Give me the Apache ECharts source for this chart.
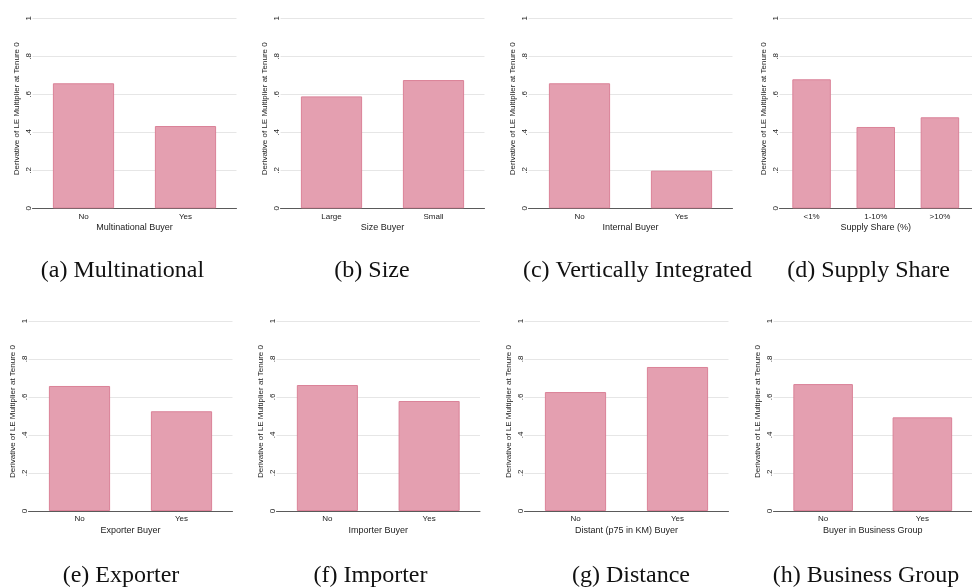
<!DOCTYPE html>
<html>
<head>
<meta charset="utf-8">
<script src="https://cdn.jsdelivr.net/npm/echarts@6/dist/echarts.min.js"></script>
<style>
  html, body { margin: 0; padding: 0; background: #ffffff; }
  #chart { width: 972px; height: 588px; }
</style>
</head>
<body>
<div id="chart"></div>
<script>
// Derivative of the LE multiplier at tenure 0, split by buyer characteristics
const yAxisTitle = 'Derivative of LE Multiplier at Tenure 0';
const yTickLabels = ['0', '.2', '.4', '.6', '.8', '1'];

const multinationalCats = ['No', 'Yes'];
const multinationalVals = [0.658, 0.433];

const sizeCats = ['Large', 'Small'];
const sizeVals = [0.589, 0.675];

const internalCats = ['No', 'Yes'];
const internalVals = [0.658, 0.198];

const supplyShareCats = ['<1%', '1-10%', '>10%'];
const supplyShareVals = [0.679, 0.428, 0.479];

const exporterCats = ['No', 'Yes'];
const exporterVals = [0.658, 0.525];

const importerCats = ['No', 'Yes'];
const importerVals = [0.663, 0.579];

const distantCats = ['No', 'Yes'];
const distantVals = [0.626, 0.758];

const groupCats = ['No', 'Yes'];
const groupVals = [0.668, 0.493];

const xTitles = ['Multinational Buyer', 'Size Buyer', 'Internal Buyer', 'Supply Share (%)',
                 'Exporter Buyer', 'Importer Buyer', 'Distant (p75 in KM) Buyer', 'Buyer in Business Group'];
const captions = ['(a) Multinational', '(b) Size', '(c) Vertically Integrated', '(d) Supply Share',
                  '(e) Exporter', '(f) Importer', '(g) Distance', '(h) Business Group'];

// panel layout: plot rectangles and caption anchors
const panels = [
  { cats: multinationalCats, vals: multinationalVals, left: 32.5,  width: 204,   top: 18.3, cx: 122.5 },
  { cats: sizeCats,          vals: sizeVals,          left: 280.5, width: 204,   top: 18.3, cx: 372 },
  { cats: internalCats,      vals: internalVals,      left: 528.5, width: 204,   top: 18.3, cx: 637.5 },
  { cats: supplyShareCats,   vals: supplyShareVals,   left: 779.5, width: 197.5, top: 18.3, cx: 868.5 },
  { cats: exporterCats,      vals: exporterVals,      left: 28.5,  width: 204,   top: 321,  cx: 121 },
  { cats: importerCats,      vals: importerVals,      left: 276.5, width: 203.5, top: 321,  cx: 370.5 },
  { cats: distantCats,       vals: distantVals,       left: 524.5, width: 204,   top: 321,  cx: 631 },
  { cats: groupCats,         vals: groupVals,         left: 773.5, width: 203,   top: 321,  cx: 866 }
];
const plotHeight = 190;

const sans = '"Liberation Sans", Arial, Helvetica, sans-serif';
const serif = '"Liberation Serif", "Times New Roman", serif';
const textColor = '#222222';

const grids = [], xAxes = [], yAxes = [], series = [], texts = [];
panels.forEach((p, i) => {
  grids.push({ left: p.left, top: p.top, width: p.width, height: plotHeight, containLabel: false });
  xAxes.push({
    type: 'category', gridIndex: i, data: p.cats,
    name: xTitles[i], nameLocation: 'middle', nameGap: 15,
    nameTextStyle: { fontFamily: sans, fontSize: 9, color: textColor },
    axisLine: { show: true, lineStyle: { color: '#5a5a5a', width: 1 } },
    axisTick: { show: false },
    axisLabel: { fontFamily: sans, fontSize: 8, color: textColor, margin: 4 }
  });
  yAxes.push({
    type: 'value', gridIndex: i, min: 0, max: 1, interval: 0.2,
    name: yAxisTitle, nameLocation: 'middle', nameGap: 12, nameRotate: 90,
    nameTextStyle: { fontFamily: sans, fontSize: 8, color: textColor, padding: [0, 0, 0, 9] },
    axisLine: { show: false }, axisTick: { show: false },
    axisLabel: {
      rotate: 90, margin: 0, fontFamily: sans, fontSize: 8, color: textColor,
      formatter: v => yTickLabels[Math.round(v * 5)]
    },
    splitLine: { show: true, lineStyle: { color: '#e6e6e6', width: 1 } }
  });
  series.push({
    type: 'bar', xAxisIndex: i, yAxisIndex: i, data: p.vals,
    barCategoryGap: '40%',
    itemStyle: { color: '#e49fb0', borderColor: '#da8298', borderWidth: 1 },
    silent: true, animation: false
  });
  texts.push({
    type: 'text', x: p.cx, y: p.top < 100 ? 271 : 576,
    style: {
      text: captions[i], fontFamily: serif, fontSize: 24, fill: '#111111',
      textAlign: 'center', textVerticalAlign: 'middle'
    }
  });
});

const chart = echarts.init(document.getElementById('chart'), null, { renderer: 'canvas' });
chart.setOption({
  backgroundColor: '#ffffff',
  animation: false,
  grid: grids,
  xAxis: xAxes,
  yAxis: yAxes,
  series: series,
  graphic: texts
});
</script>
</body>
</html>
